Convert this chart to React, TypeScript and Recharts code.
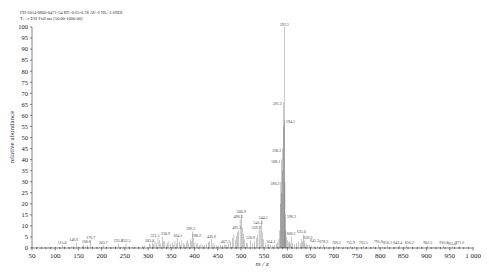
import { ComposedChart, Bar, XAxis, YAxis, LabelList } from 'recharts';

// labelled peaks (m/z, relative abundance)
const peakMz = [
  115.0, 146.6, 160.6, 176.7, 203.7, 235.8, 252.5, 303.0, 321.5, 330.9, 364.1, 396.3, 398.2,
  436.6, 467.1, 495.3, 498.3, 500.9, 520.9, 539.2, 541.3, 544.1, 564.1, 586.2, 588.1, 590.2,
  591.2, 593.3, 594.1, 596.3, 608.2, 635.0, 636.2, 641.3, 678.3, 706.2, 735.9, 763.5, 795.8,
  816.1, 842.4, 856.3, 902.5, 936.8, 955.0, 971.6,
];
const peakInt = [
  1.2, 2.5, 1.5, 3.5, 1.3, 2, 2, 2, 4.5, 5, 4.5, 7.5, 4.5,
  4, 1.5, 8, 13, 15, 3.5, 8, 10, 12.5, 1.5, 30, 40, 45,
  66, 100, 58, 15, 5, 6, 3.5, 2, 1.5, 1, 1, 1, 1.5,
  1.2, 1, 1.2, 1, 1, 0.8, 1,
];

// unlabelled small peaks / noise
const noiseMz = [
  62, 70, 78, 85, 92, 100, 108, 121, 128, 135, 140, 152, 158, 165, 170, 181, 188, 195, 210, 218,
  226, 230, 242, 248, 258, 266, 272, 280, 288, 292, 306, 309, 312, 315, 318, 324, 327, 333, 336,
  339, 342, 345, 348, 352, 355, 358, 361, 367, 370, 373, 376, 379, 382, 385, 388, 391, 394, 401,
  404, 407, 410, 414, 418, 422, 426, 430, 433, 440, 444, 448, 452, 456, 460, 464, 470, 474, 478,
  482, 485, 488, 491, 493, 503, 505, 507, 512, 515, 525, 530, 533, 536, 546, 549, 553, 557, 560,
  568, 572, 576, 579, 582, 584, 585, 587, 589, 592, 595, 597, 598, 600, 602, 604, 606, 612, 616,
  620, 624, 628, 631, 633, 638, 644, 648, 652, 658, 665, 672, 685, 692, 700, 712, 725, 745, 770,
  785, 805, 830, 870, 890, 915, 925, 945, 965, 985,
];
const noiseInt = [
  0.4, 0.3, 0.5, 0.3, 0.6, 0.4, 0.5, 0.7, 0.4, 0.8, 1.0, 0.6, 0.9, 0.7, 1.2, 0.8, 0.5, 0.6, 0.7, 0.5,
  0.6, 0.9, 0.5, 0.7, 0.6, 0.5, 0.8, 0.6, 0.9, 1.1, 1.5, 2.5, 1.8, 3.0, 2.2, 3.5, 2.0, 2.8, 3.2,
  1.6, 2.4, 3.0, 1.8, 2.6, 1.4, 3.2, 2.0, 2.8, 1.5, 3.4, 2.2, 1.6, 2.8, 3.6, 2.0, 4.0, 3.0, 2.4,
  1.8, 2.2, 1.4, 1.8, 1.2, 1.6, 2.0, 2.6, 3.0, 2.2, 1.5, 1.2, 1.0, 1.4, 1.1, 1.6, 1.3, 2.0, 2.8,
  4.5, 6.0, 3.5, 5.5, 7.0, 9.0, 6.5, 4.0, 2.5, 2.0, 2.2, 3.0, 4.5, 6.0, 7.0, 4.0, 2.0, 1.5, 1.8,
  1.2, 1.4, 2.0, 2.5, 4.0, 8.0, 20, 25, 35, 55, 30, 8, 5, 3.5, 2.5, 3.0, 2.0, 2.2, 1.8,
  2.4, 3.0, 2.2, 4.0, 3.0, 1.8, 1.4, 1.2, 1.0, 0.9, 0.8, 1.0, 0.7, 0.6, 0.8, 0.5, 0.6, 0.7,
  0.5, 0.6, 0.5, 0.4, 0.5, 0.4, 0.5, 0.4, 0.3,
];

const yTicks = [0, 5, 10, 15, 20, 25, 30, 35, 40, 45, 50, 55, 60, 65, 70, 75, 80, 85, 90, 95, 100];
const xMajor = [50, 100, 150, 200, 250, 300, 350, 400, 450, 500, 550, 600, 650, 700, 750, 800, 850, 900, 950, 1000];
const xTicks = Array.from({ length: 96 }, (_, k) => 50 + k * 10);

const headerLines = [
  'FH-2014-M00-0471-34 RT: 0.65-0.78 AV: 6 NL: 2.69E8',
  'T: +c ESI Full ms [50.00-1000.00]',
];

// labels sitting beside the peak instead of above it (main cluster) and small nudges for crowded ones
const leftLabels = ['586.2', '588.1', '590.2', '591.2'];
const rightLabels = ['594.1', '596.3'];
const labelNudge: Record<string, number> = {
  '321.5': -3, '330.9': 3, '396.3': -2, '398.2': 3, '635.0': -2, '636.2': 4, '641.3': 8,
  '842.4': -2, '856.3': 3, '495.3': -2, '498.3': -2, '539.2': -3, '541.3': -2, '544.1': 2,
  '146.6': -3, '160.6': 3,
};

const data = [
  ...peakMz.map((mz, k) => ({ mz, i: peakInt[k], lbl: mz.toFixed(1) })),
  ...noiseMz.map((mz, k) => ({ mz, i: noiseInt[k], lbl: '' })),
].sort((a, b) => a.mz - b.mz);

const FONT = '"Liberation Serif", "DejaVu Serif", serif';

function XTick(props: any) {
  const { x, y, payload } = props;
  const major = xMajor.includes(payload.value);
  return (
    <g>
      <line x1={x} x2={x} y1={y - 1} y2={y + (major ? 2.5 : 1.2)} stroke="#333" strokeWidth={0.6} />
      {major && (
        <text x={x} y={y + 9.5} textAnchor="middle" fontSize={7} fill="#222" fontFamily={FONT}>
          {payload.value === 1000 ? '1 000' : payload.value}
        </text>
      )}
    </g>
  );
}

function PeakLabel(props: any) {
  const { x, y, width, value } = props;
  if (!value) return null;
  const cx = x + width / 2;
  let tx = cx + (labelNudge[value] || 0);
  let ty = y - 1.5;
  let anchor: 'middle' | 'end' | 'start' = 'middle';
  if (leftLabels.includes(value)) {
    tx = cx - 1.5;
    ty = y + 3;
    anchor = 'end';
  } else if (rightLabels.includes(value)) {
    tx = cx + 1.5;
    ty = y + 3;
    anchor = 'start';
  }
  return (
    <text x={tx} y={ty} textAnchor={anchor} fontSize={4} fill="#444" fontFamily={FONT}>
      {value}
    </text>
  );
}

export default function App() {
  return (
    <div style={{ position: 'absolute', left: 0, top: 0, width: 489, height: 272, background: '#fff', fontFamily: FONT }}>
      <div style={{ position: 'absolute', left: 20, top: 10, fontSize: 4.5, lineHeight: '5.5px', color: '#333', whiteSpace: 'nowrap' }}>
        {headerLines.map((l) => (
          <div key={l}>{l}</div>
        ))}
      </div>
      <div
        style={{
          position: 'absolute',
          left: 12,
          top: 137,
          fontSize: 7,
          color: '#333',
          whiteSpace: 'nowrap',
          transform: 'translate(-50%, -50%) rotate(-90deg)',
        }}
      >
        relative abundance
      </div>
      <div style={{ position: 'absolute', left: 262, top: 260, fontSize: 7, lineHeight: '8px', fontStyle: 'italic', color: '#333', transform: 'translateX(-50%)' }}>
        m / z
      </div>
      <ComposedChart width={489} height={272} data={data} margin={{ top: 27, right: 16, left: 0, bottom: 0 }}>
        <XAxis
          dataKey="mz"
          type="number"
          domain={[50, 1000]}
          ticks={xTicks}
          interval={0}
          height={24}
          tickLine={false}
          tickSize={0}
          tickMargin={0}
          tick={<XTick />}
          stroke="#333"
          strokeWidth={0.6}
        />
        <YAxis
          domain={[0, 100]}
          ticks={yTicks}
          interval={0}
          width={32}
          tickSize={2}
          tick={{ fontSize: 6.5, fill: '#222', fontFamily: FONT }}
          stroke="#333"
          strokeWidth={0.6}
        />
        <Bar dataKey="i" fill="#444" barSize={1} isAnimationActive={false}>
          <LabelList dataKey="lbl" content={<PeakLabel />} />
        </Bar>
      </ComposedChart>
    </div>
  );
}
